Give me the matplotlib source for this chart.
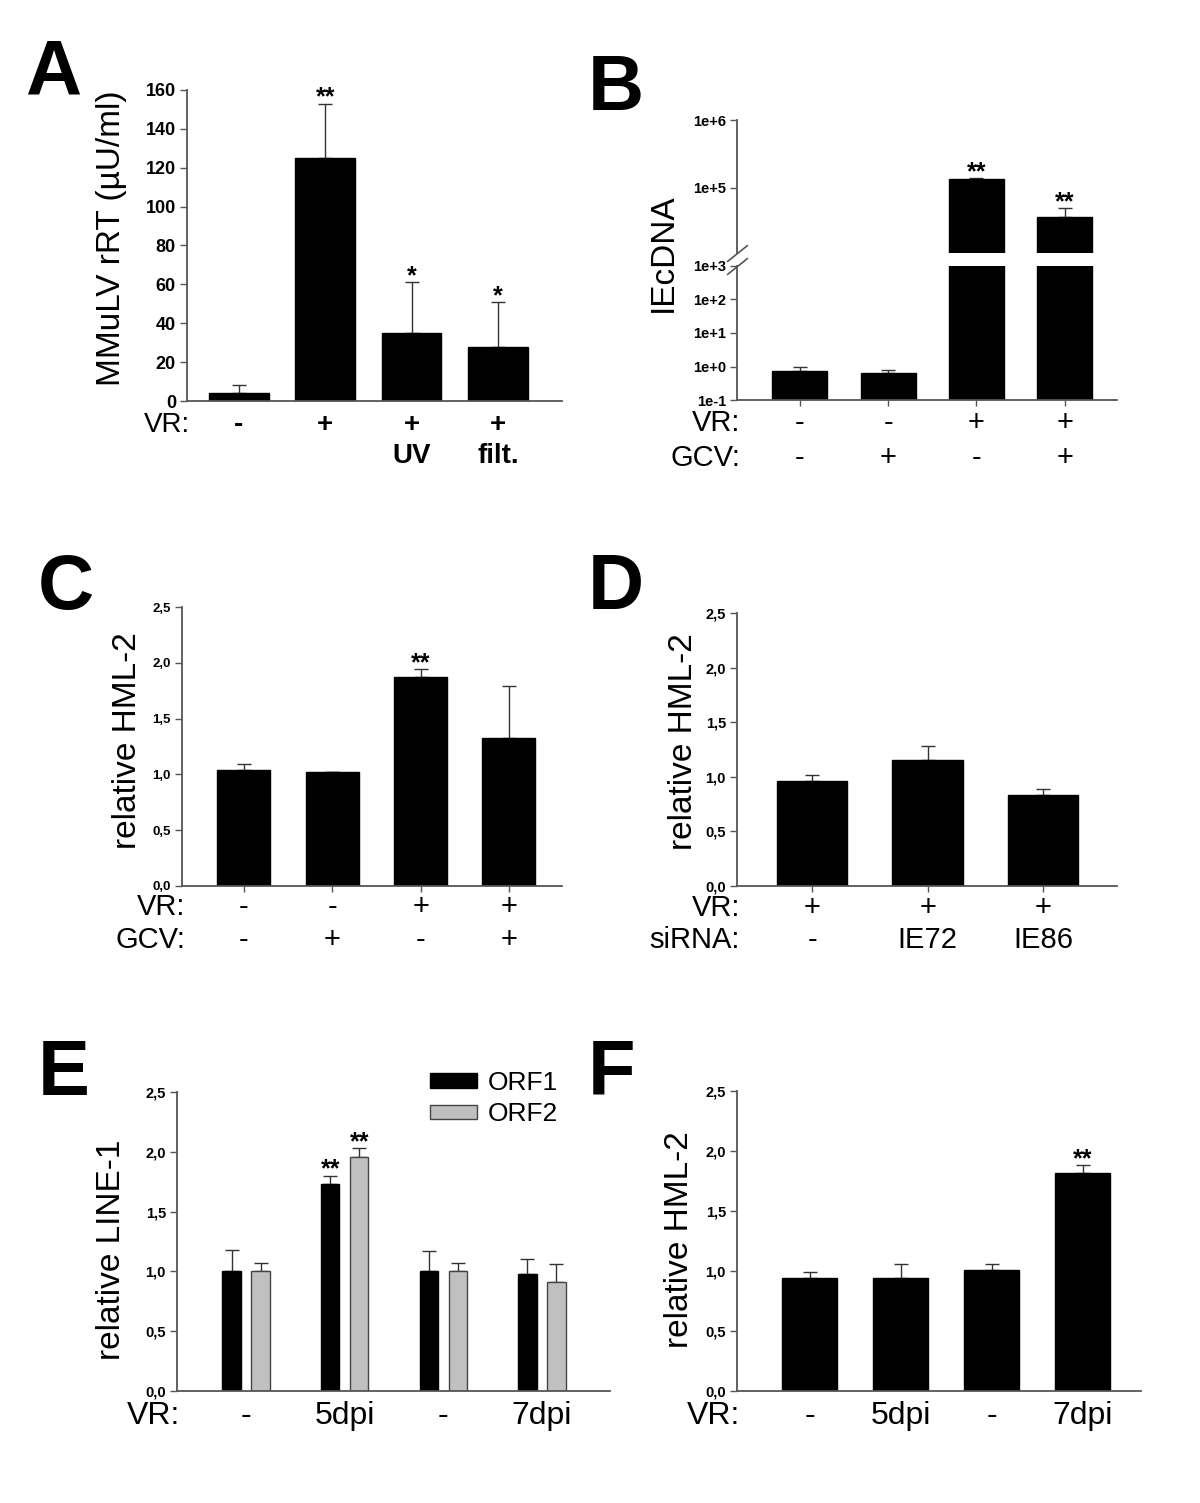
import matplotlib
matplotlib.use("Agg")
import matplotlib.pyplot as plt
from matplotlib.ticker import NullLocator

# ---- data ----
a_vals = [4, 125, 35, 28]
a_err = [4, 28, 26, 23]
a_sig = ["", "**", "*", "*"]
a_vr = ["-", "+", "+", "+"]
a_treat = ["", "", "UV", "filt."]

b_vals = [0.75, 0.63, 1.35e5, 3.7e4]
b_err = [0.22, 0.17, 3e3, 1.3e4]
b_sig = ["", "", "**", "**"]
b_vr = ["-", "-", "+", "+"]
b_gcv = ["-", "+", "-", "+"]

c_vals = [1.04, 1.02, 1.87, 1.33]
c_err = [0.05, 0.0, 0.07, 0.46]
c_sig = ["", "", "**", ""]
c_vr = ["-", "-", "+", "+"]
c_gcv = ["-", "+", "-", "+"]

d_vals = [0.96, 1.15, 0.83]
d_err = [0.06, 0.13, 0.06]
d_vr = ["+", "+", "+"]
d_sirna = ["-", "IE72", "IE86"]

e_orf1 = [1.0, 1.73, 1.0, 0.98]
e_orf1_err = [0.18, 0.07, 0.17, 0.12]
e_orf2 = [1.0, 1.96, 1.0, 0.91]
e_orf2_err = [0.07, 0.07, 0.07, 0.15]
e_sig1 = ["", "**", "", ""]
e_sig2 = ["", "**", "", ""]
e_vr = ["-", "5dpi", "-", "7dpi"]

f_vals = [0.94, 0.94, 1.01, 1.82]
f_err = [0.05, 0.12, 0.05, 0.06]
f_sig = ["", "", "", "**"]
f_vr = ["-", "5dpi", "-", "7dpi"]

rel_ticks = [0, 0.5, 1.0, 1.5, 2.0, 2.5]
rel_labels = ["0,0", "0,5", "1,0", "1,5", "2,0", "2,5"]

plt.rcParams["font.family"] = ["Liberation Sans", "DejaVu Sans"]

W, H = 1200, 1503
fig = plt.figure(figsize=(W / 100, H / 100), dpi=100)
AX = "#555555"


def px_axes(x0, y0, x1, y1):
    return fig.add_axes([x0 / W, 1 - y1 / H, (x1 - x0) / W, (y1 - y0) / H])


def style(ax, n):
    for s in ["top", "right"]:
        ax.spines[s].set_visible(False)
    for s in ["left", "bottom"]:
        ax.spines[s].set_color(AX)
        ax.spines[s].set_linewidth(1.3)
    ax.tick_params(axis="y", direction="out", length=5, width=1, color=AX, pad=3)
    ax.tick_params(axis="x", direction="out", length=4, width=1, color=AX, labelbottom=False)
    ax.set_xticks(range(n))


def bars(ax, xs, vals, errs, color="black", edge="black", width=0.6, label=None):
    b = ax.bar(xs, vals, width=width, color=color, edgecolor=edge, linewidth=1, label=label, zorder=2)
    ax.errorbar(xs, vals, yerr=[[0] * len(vals), errs], fmt="none", ecolor="#333333",
                elinewidth=1, capsize=5, capthick=1, zorder=1)
    return b


def stars(ax, xs, vals, errs, sigs, size=18):
    for x, v, e, s in zip(xs, vals, errs, sigs):
        if s:
            ax.annotate(s, xy=(x, v + e), xytext=(0, -1), textcoords="offset pixels",
                        ha="center", va="baseline", fontsize=size, fontweight="bold")


def row(ax, title, labels, dy, size=21, weight="normal"):
    ax.annotate(title, xy=(0, 0), xycoords="axes fraction", xytext=(3, -dy),
                textcoords="offset pixels", ha="right", va="center", fontsize=size)
    for i, lab in enumerate(labels):
        ax.annotate(lab, xy=(i, 0), xycoords=("data", "axes fraction"), xytext=(0, -dy),
                    textcoords="offset pixels", ha="center", va="center",
                    fontsize=size, fontweight=weight)


def ylab(x, y, text):
    fig.text(x / W, 1 - y / H, text, rotation=90, ha="center", va="center", fontsize=24)


def letter(x, y, text):
    fig.text(x / W, 1 - y / H, text, ha="left", va="baseline", fontsize=56, fontweight="bold")


# ---- A ----
ax = px_axes(187, 90, 562, 401)
style(ax, 4)
xs = list(range(4))
bars(ax, xs, a_vals, a_err, width=0.69)
stars(ax, xs, a_vals, a_err, a_sig)
ax.set_xlim(-0.6, 3.74)
ax.set_ylim(0, 160)
ax.set_yticks(range(0, 161, 20), [str(v) for v in range(0, 161, 20)], fontsize=13, fontweight="bold")
ax.tick_params(axis="x", length=0)
row(ax, "VR:", a_vr, 24, size=20, weight="bold")
row(ax, "", a_treat, 55, size=20, weight="bold")
ylab(112, 238, "MMuLV rRT (µU/ml)")
letter(25, 95, "A")

# ---- B (broken log axis) ----
bt = px_axes(737, 120, 1117, 253)
bb = px_axes(737, 266, 1117, 400)
for a in (bt, bb):
    style(a, 4)
    a.set_yscale("log")
    bars(a, xs, b_vals, b_err, width=0.62)
    a.set_xlim(-0.71, 3.59)
    a.yaxis.set_minor_locator(NullLocator())
bt.set_ylim(1.1e4, 1e6)
bt.set_yticks([1e5, 1e6], ["1e+5", "1e+6"], fontsize=10.5, fontweight="bold")
bt.spines["bottom"].set_visible(False)
bt.tick_params(axis="x", length=0)
bb.set_ylim(0.1, 1000)
bb.set_yticks([0.1, 1, 10, 100, 1000], ["1e-1", "1e+0", "1e+1", "1e+2", "1e+3"],
              fontsize=10.5, fontweight="bold")
stars(bt, xs, b_vals, b_err, b_sig)
brk = dict(marker=[(-1, -0.8), (1, 0.8)], markersize=15, linestyle="none",
           color=AX, mec=AX, mew=1.2, clip_on=False)
bt.plot([0], [0], transform=bt.transAxes, **brk)
bb.plot([0], [1], transform=bb.transAxes, **brk)
row(bb, "VR:", b_vr, 23)
row(bb, "GCV:", b_gcv, 58)
ylab(663, 253, "IEcDNA")
letter(588, 110, "B")

# ---- C ----
ax = px_axes(182, 607, 562, 886)
style(ax, 4)
bars(ax, xs, c_vals, c_err, width=0.6)
stars(ax, xs, c_vals, c_err, c_sig)
ax.set_xlim(-0.7, 3.6)
ax.set_ylim(0, 2.5)
ax.set_yticks(rel_ticks, rel_labels, fontsize=9.5, fontweight="bold")
row(ax, "VR:", c_vr, 21)
row(ax, "GCV:", c_gcv, 54)
ylab(127, 741, "relative HML-2")
letter(38, 609, "C")

# ---- D ----
ax = px_axes(737, 613, 1117, 886)
style(ax, 3)
xd = list(range(3))
bars(ax, xd, d_vals, d_err, width=0.61)
ax.set_xlim(-0.65, 2.64)
ax.set_ylim(0, 2.5)
ax.set_yticks(rel_ticks, rel_labels, fontsize=10.5, fontweight="bold")
row(ax, "VR:", d_vr, 22)
row(ax, "siRNA:", d_sirna, 54)
ylab(683, 742, "relative HML-2")
letter(588, 609, "D")

# ---- E ----
ax = px_axes(177, 1092, 610, 1391)
style(ax, 4)
off = 0.147
x1 = [x - off for x in xs]
x2 = [x + off for x in xs]
bars(ax, x1, e_orf1, e_orf1_err, width=0.185, label="ORF1")
bars(ax, x2, e_orf2, e_orf2_err, color="#c0c0c0", edge="#444444", width=0.185, label="ORF2")
stars(ax, x1, e_orf1, e_orf1_err, e_sig1)
stars(ax, x2, e_orf2, e_orf2_err, e_sig2)
ax.set_xlim(-0.7, 3.69)
ax.set_ylim(0, 2.5)
ax.set_yticks(rel_ticks, rel_labels, fontsize=10.5, fontweight="bold")
ax.tick_params(axis="x", length=0)
ax.legend(loc="upper left", bbox_to_anchor=(430 / W, 1 - 1071 / H), bbox_transform=fig.transFigure,
          frameon=False, fontsize=19, handlelength=1.77, handleheight=0.46, handletextpad=0.4,
          labelspacing=0.27, borderpad=0, borderaxespad=0)
row(ax, "VR:", e_vr, 25, size=23)
ylab(112, 1250, "relative LINE-1")
letter(38, 1095, "E")

# ---- F ----
ax = px_axes(737, 1091, 1141, 1391)
style(ax, 4)
bars(ax, xs, f_vals, f_err, width=0.6)
stars(ax, xs, f_vals, f_err, f_sig)
ax.set_xlim(-0.8, 3.64)
ax.set_ylim(0, 2.5)
ax.set_yticks(rel_ticks, rel_labels, fontsize=10.5, fontweight="bold")
ax.tick_params(axis="x", length=0)
row(ax, "VR:", f_vr, 25, size=23)
ylab(680, 1240, "relative HML-2")
letter(588, 1095, "F")

fig.savefig("out.png", dpi=100, facecolor="white")
